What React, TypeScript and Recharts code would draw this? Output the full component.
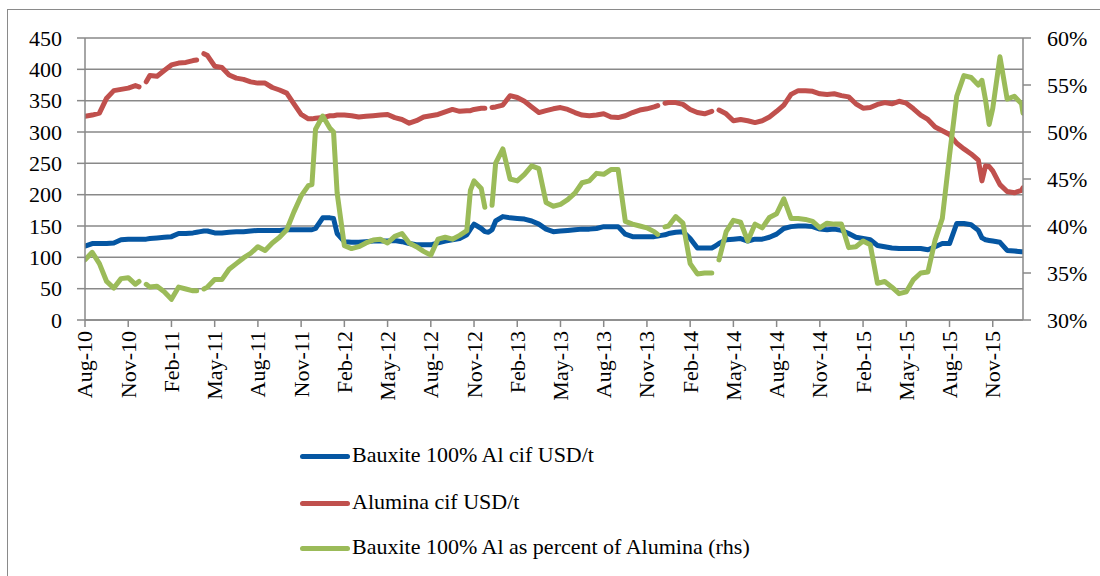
import React from "react";
import { LineChart, Line, XAxis, YAxis, CartesianGrid } from "recharts";

// months after Aug-10 (weekly-ish readings, extra rows around data gaps)
const months = [
  0, 0.5, 1, 1.5, 2, 2.5, 3, 3.5, 3.75, 4, 4.25, 4.5, 5, 5.5, 6, 6.5, 7, 7.5, 7.75, 8, 8.25, 8.5, 9, 9.5, 10, 10.5,
  11, 11.5, 12, 12.5, 13, 13.5, 14, 14.5, 15, 15.5, 15.75, 16, 16.5, 17, 17.25, 17.5, 18, 18.5, 19, 19.5, 20, 20.5, 21, 21.5,
  22, 22.5, 23, 23.5, 24, 24.5, 25, 25.5, 26, 26.5, 26.75, 27, 27.5, 27.75, 28, 28.25, 28.5, 29, 29.5, 30, 30.5, 31, 31.5, 32,
  32.5, 33, 33.5, 34, 34.5, 35, 35.5, 36, 36.5, 37, 37.5, 38, 38.5, 39, 39.5, 39.75, 40, 40.25, 40.5, 41, 41.5, 42, 42.5, 43,
  43.5, 43.75, 44, 44.5, 45, 45.5, 46, 46.5, 47, 47.5, 48, 48.5, 49, 49.5, 50, 50.5, 51, 51.5, 52, 52.5, 53, 53.5, 54,
  54.5, 55, 55.5, 56, 56.5, 57, 57.5, 58, 58.5, 59, 59.5, 60, 60.5, 61, 61.5, 62, 62.25, 62.5, 62.75, 63, 63.5, 64, 64.5, 65, 65.1,
];

const bauxite = [
  118, 122, 122, 122, 123, 128, 129, 129, 129, 129, 129, 130, 131, 132, 133, 138, 138, 139, 140, 141, 142, 142, 139, 139, 140, 141,
  141, 142, 143, 143, 143, 143, 144, 144, 144, 144, 144, 146, 163, 163, 162, 138, 125, 124, 124, 125, 126, 126, 126, 127,
  125, 122, 120, 120, 120, 123, 126, 128, 130, 136, 145, 153, 146, 141, 140, 144, 158, 165, 163, 162, 161, 158, 153, 145,
  141, 142, 143, 144, 145, 145, 146, 149, 149, 149, 137, 133, 133, 133, 133, 134, 135, 136, 138, 140, 141, 130, 115, 115,
  115, 118, 122, 128, 129, 130, 126, 129, 129, 132, 137, 146, 149, 150, 150, 149, 145, 144, 145, 143, 138, 132, 130,
  128, 119, 117, 115, 114, 114, 114, 114, 112, 117, 122, 122, 154, 154, 152, 143, 131, 128, 127, 126, 124, 111, 110, 109, 109,
];

const alumina = [
  325, 327, 330, 354, 366, 368, 370, 374, 372, null, 380, 390, 389, 398, 407, 410, 411, 414, 415, null, 425, 422, 405, 403, 391, 386,
  384, 380, 378, 378, 371, 367, 362, 345, 328, 321, 321, 322, 323, 326, 326, 327, 327, 326, 324, 325, 326, 327, 328, 323,
  320, 314, 318, 324, 326, 328, 332, 336, 333, 334, 334, 336, 338, 338, null, 339, 340, 343, 358, 355, 349, 340, 331, 334,
  337, 339, 336, 331, 327, 326, 327, 329, 324, 323, 326, 331, 335, 337, 340, 342, null, 346, 347, 347, 344, 336, 331, 329,
  333, null, 335, 329, 318, 320, 318, 315, 318, 324, 333, 343, 360, 366, 366, 365, 361, 360, 361, 358, 356, 345, 338,
  339, 344, 347, 345, 349, 346, 337, 327, 320, 308, 302, 296, 282, 273, 265, 255, 222, 246, 245, 238, 216, 205, 203, 207, 211,
];

// percent, right axis
const share = [
  36.4, 37.2, 36.0, 34.1, 33.4, 34.4, 34.5, 33.8, 34.1, null, 33.8, 33.5, 33.6, 33.0, 32.2, 33.5, 33.3, 33.1, 33.1, null, 33.3, 33.5, 34.3, 34.3, 35.4, 36.0,
  36.6, 37.1, 37.8, 37.4, 38.2, 38.8, 39.6, 41.5, 43.2, 44.3, 44.4, 50.3, 51.7, 50.4, 50.0, 43.5, 37.9, 37.6, 37.8, 38.2, 38.5, 38.6, 38.2, 38.9,
  39.2, 38.2, 37.8, 37.3, 36.9, 38.6, 38.8, 38.6, 39.0, 39.5, 43.8, 44.8, 44.0, 42.0, null, 42.2, 46.7, 48.2, 45.0, 44.8, 45.5, 46.4, 46.1, 42.5,
  42.1, 42.3, 42.8, 43.5, 44.6, 44.8, 45.6, 45.5, 46.0, 46.0, 40.5, 40.2, 40.0, 39.8, 39.4, 39.1, null, 39.9, 40.0, 41.0, 40.3, 36.0, 34.9, 35.0,
  35.0, null, 36.4, 39.4, 40.6, 40.4, 38.4, 40.2, 39.8, 40.9, 41.3, 42.9, 40.8, 40.8, 40.7, 40.5, 39.8, 40.3, 40.2, 40.2, 37.7, 37.8, 38.4,
  38.0, 33.9, 34.1, 33.5, 32.8, 33.0, 34.3, 35.0, 35.1, 38.5, 40.8, 47.5, 53.8, 56.0, 55.8, 55.0, 55.5, 53.4, 50.8, 52.5, 58.0, 53.5, 53.8, 53.0, 52.0,
];

const tickLabels = [
  "Aug-10", "Nov-10", "Feb-11", "May-11", "Aug-11", "Nov-11", "Feb-12", "May-12", "Aug-12", "Nov-12", "Feb-13",
  "May-13", "Aug-13", "Nov-13", "Feb-14", "May-14", "Aug-14", "Nov-14", "Feb-15", "May-15", "Aug-15", "Nov-15",
];
const tickMonths = tickLabels.map((_, i) => i * 3);
const leftTicks = [0, 50, 100, 150, 200, 250, 300, 350, 400, 450];
const rightTicks = [30, 35, 40, 45, 50, 55, 60];

const seriesNames = [
  "Bauxite 100% Al cif USD/t",
  "Alumina cif USD/t",
  "Bauxite 100% Al as percent of Alumina (rhs)",
];

const data = months.map((m, i) => ({
  m,
  bauxite: bauxite[i],
  alumina: alumina[i],
  share: share[i],
}));

const FONT = "Liberation Serif, serif";
const GRAY = "#898989";
const BLUE = "#0556A2";
const RED = "#C0504D";
const GREEN = "#9BBB59";

const XTick = (props: any) => {
  const { x, y, payload } = props;
  const label = tickLabels[Math.round(payload.value / 3)];
  return (
    <text
      x={x}
      y={y}
      transform={`rotate(-90 ${x} ${y})`}
      textAnchor="end"
      dy="0.34em"
      fontSize={22}
      style={{ fontFamily: FONT }}
      fill="#000"
    >
      {label}
    </text>
  );
};

const legendColors = [BLUE, RED, GREEN];
const legendY = [456, 503, 548];

export default function App() {
  const tickStyle = { fill: "#000", fontSize: 22, style: { fontFamily: FONT } };
  return (
    <div style={{ position: "absolute", left: 0, top: 0, width: 1100, height: 576, overflow: "hidden", background: "#fff", fontFamily: FONT }}>
      <div
        style={{
          position: "absolute",
          left: 7,
          top: 9,
          width: 1200,
          height: 700,
          border: "1px solid #8a8a8a",
        }}
      />
      <div style={{ position: "absolute", left: 0, top: 0 }}>
        <LineChart
          width={1100}
          height={576}
          data={data}
          margin={{ top: 38, right: 0, bottom: 156, left: 0 }}
          style={{ fontFamily: FONT }}
        >
          <CartesianGrid yAxisId="left" vertical={false} stroke={GRAY} strokeWidth={1.5} />
          <XAxis
            dataKey="m"
            type="number"
            domain={[0, 65.1]}
            ticks={tickMonths}
            interval={0}
            height={100}
            tick={<XTick />}
            tickSize={7}
            tickMargin={4}
            stroke={GRAY}
            strokeWidth={1.5}
            allowDataOverflow
          />
          <YAxis
            yAxisId="left"
            orientation="left"
            width={85}
            domain={[0, 450]}
            ticks={leftTicks}
            interval={0}
            tick={tickStyle}
            tickSize={8}
            tickMargin={15}
            stroke={GRAY}
            strokeWidth={1.5}
          />
          <YAxis
            yAxisId="right"
            orientation="right"
            width={77}
            domain={[30, 60]}
            ticks={rightTicks}
            interval={0}
            tick={tickStyle}
            tickFormatter={(v: number) => `${v}%`}
            tickSize={8}
            tickMargin={16}
            stroke={GRAY}
            strokeWidth={1.5}
          />
          <Line
            yAxisId="left"
            type="linear"
            dataKey="bauxite"
            stroke={BLUE}
            strokeWidth={5}
            dot={false}
            strokeLinecap="round"
            strokeLinejoin="round"
            isAnimationActive={false}
          />
          <Line
            yAxisId="left"
            type="linear"
            dataKey="alumina"
            stroke={RED}
            strokeWidth={5}
            dot={false}
            strokeLinecap="round"
            strokeLinejoin="round"
            isAnimationActive={false}
          />
          <Line
            yAxisId="right"
            type="linear"
            dataKey="share"
            stroke={GREEN}
            strokeWidth={5}
            dot={false}
            strokeLinecap="round"
            strokeLinejoin="round"
            isAnimationActive={false}
          />
        </LineChart>
      </div>
      {seriesNames.map((name, i) => (
        <div key={name}>
          <div
            style={{
              position: "absolute",
              left: 300,
              top: legendY[i] - 2.5,
              width: 50,
              height: 5,
              borderRadius: 3,
              background: legendColors[i],
            }}
          />
          <div
            style={{
              position: "absolute",
              left: 352,
              top: legendY[i] - 15,
              fontSize: 22,
              lineHeight: "28px",
              color: "#000",
              whiteSpace: "nowrap",
            }}
          >
            {name}
          </div>
        </div>
      ))}
    </div>
  );
}
